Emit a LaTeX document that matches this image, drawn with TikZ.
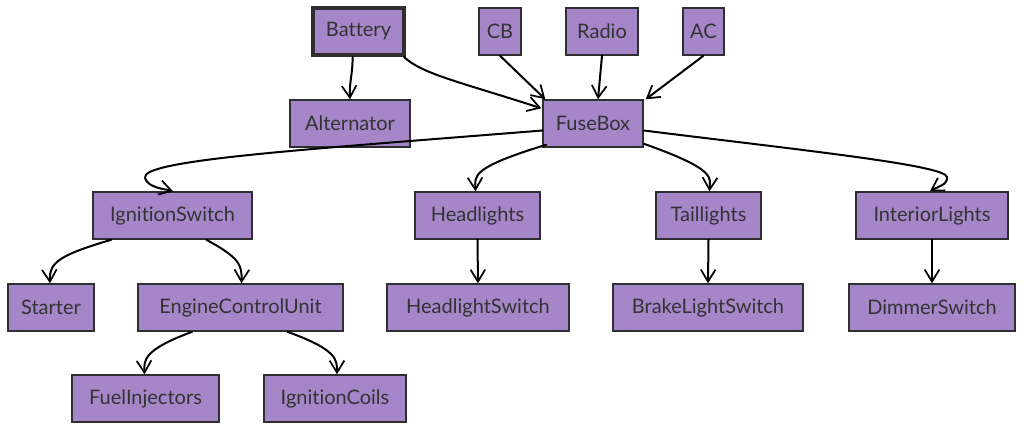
\documentclass[tikz,border=0pt]{standalone}
\usepackage{fontspec}
\setmainfont{Lato}[Ligatures=NoCommon]
\usetikzlibrary{arrows.meta,calc}
\definecolor{boxfill}{HTML}{A586C8}
\definecolor{boxline}{HTML}{2F2F2F}
\definecolor{txt}{HTML}{333333}
\tikzset{
  box/.style={draw=boxline, line width=1.1pt, fill=boxfill, inner sep=0pt,
    text=txt, font=\fontsize{15}{17}\selectfont},
  thickbox/.style={box, line width=3pt},
  arr/.style={draw=black, line width=1.5pt, line cap=round,
    -{Straight Barb[length=9pt,width=11pt,line width=1.3pt]}},
}
% \bnode[style]{x1}{y1}{x2}{y2}{name}{text}
\newcommand\bnode[7][box]{%
  \node[#1, minimum width={(#4-#2)*0.75pt}, minimum height={(#5-#3)*0.75pt}]
    (#6) at ({(#2+#4)/2},{(#3+#5)/2}) {#7};}
\begin{document}
\begin{tikzpicture}[x=0.75pt,y=-0.75pt]
\useasboundingbox (0,0) rectangle (1024,431);
% nodes
\bnode[thickbox]{313}{8}{404}{55}{Battery}{Battery}
\bnode{479}{8}{521}{55}{CB}{CB}
\bnode{566}{8}{638}{55}{Radio}{Radio}
\bnode{683}{8}{724}{55}{AC}{AC}
\bnode{290}{100}{410}{147}{Alternator}{Alternator}
\bnode{543}{100}{643}{147}{FuseBox}{FuseBox}
\bnode{93}{192}{252}{239}{IgnitionSwitch}{IgnitionSwitch}
\bnode{415}{192}{540}{239}{Headlights}{Headlights}
\bnode{656}{192}{761}{239}{Taillights}{Taillights}
\bnode{856}{192}{1008}{239}{InteriorLights}{InteriorLights}
\bnode{8}{284}{94}{331}{Starter}{Starter}
\bnode{138}{284}{343}{331}{ECU}{EngineControlUnit}
\bnode{387}{284}{569}{331}{HeadlightSwitch}{HeadlightSwitch}
\bnode{613}{284}{803}{331}{BrakeLightSwitch}{BrakeLightSwitch}
\bnode{849}{284}{1015}{331}{DimmerSwitch}{DimmerSwitch}
\bnode{72}{375}{219}{422}{FuelInjectors}{FuelInjectors}
\bnode{264}{375}{406}{422}{IgnitionCoils}{IgnitionCoils}
% connectors
\draw[arr] ($(Battery.south)+(-6,0)$) .. controls (353,72) and (349,84) .. (Alternator.north);
\draw[arr] ($(Battery.south east)+(-2,0)$) .. controls (422,74) and (460,82) .. ($(FuseBox.north west)+(-1,9)$);
\draw[arr] (CB.south) -- ($(FuseBox.north west)+(3,0)$);
\draw[arr] (Radio.south) -- ($(FuseBox.north)+(5,0)$);
\draw[arr] (AC.south) -- ($(FuseBox.north east)+(2,0)$);
\draw[arr] ($(FuseBox.west)+(0,7)$) .. controls (300,150) and (140,160) .. (145,178)
  .. controls (148,188) and (165,189) .. ($(IgnitionSwitch.north)+(0.5,0)$);
\draw[arr] ($(FuseBox.south west)+(4,-3)$) .. controls (470,168) and (475,176) .. ($(Headlights.north)+(-2,0)$);
\draw[arr] ($(FuseBox.south east)+(0,-4)$) .. controls (718,170) and (710,178) .. ($(Taillights.north)+(1,0)$);
\draw[arr] ($(FuseBox.east)+(0,7)$) .. controls (800,150) and (945,165) .. (947,177)
  .. controls (948,185) and (937,187) .. ($(InteriorLights.north)+(-2,0)$);
\draw[arr] ($(IgnitionSwitch.south west)+(19,0)$) .. controls (60,255) and (49,262) .. ($(Starter.north)+(-1,0)$);
\draw[arr] ($(IgnitionSwitch.south west)+(114,0)$) .. controls (240,258) and (242,265) .. ($(ECU.north)+(1,0)$);
\draw[arr] ($(ECU.south west)+(55,0)$) .. controls (143,350) and (144,360) .. ($(FuelInjectors.north)+(-1,0)$);
\draw[arr] ($(ECU.south west)+(150,0)$) .. controls (338,350) and (337,360) .. ($(IgnitionCoils.north)+(2,0)$);
\draw[arr] (Headlights.south) -- (HeadlightSwitch.north);
\draw[arr] (Taillights.south) -- (BrakeLightSwitch.north);
\draw[arr] (InteriorLights.south) -- (DimmerSwitch.north);
\end{tikzpicture}
\end{document}
